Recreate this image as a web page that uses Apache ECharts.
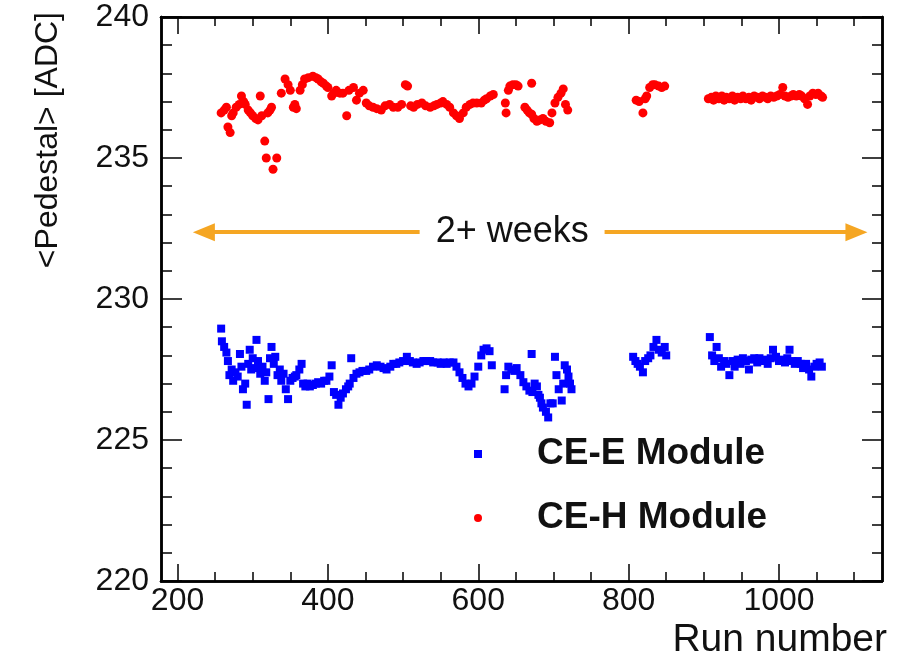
<!DOCTYPE html>
<html>
<head>
<meta charset="utf-8">
<script src="https://cdn.jsdelivr.net/npm/echarts@6/dist/echarts.min.js"></script>
<style>
html,body{margin:0;padding:0;background:#fff;}
#chart{width:903px;height:663px;}
</style>
</head>
<body>
<div id="chart"></div>
<script>
// ---------------- DATA ----------------
const xRange = [178, 1137];
const yRange = [220, 240];
const xMajorTicks = [200, 400, 600, 800, 1000];
const xMinorTicks = [250, 300, 350, 450, 500, 550, 650, 700, 750, 850, 900, 950, 1050, 1100];
const yMajorTicks = [220, 225, 230, 235, 240];
const yMinorTicks = [221, 222, 223, 224, 226, 227, 228, 229, 231, 232, 233, 234, 236, 237, 238, 239];
const seriesNames = ['CE-E Module', 'CE-H Module'];
const arrowText = '2+ weeks';
const arrowSpan = [235, 522, 768, 1103]; // left arrow, left end, right start, right arrow (run number)
const arrowLevel = 232.37;

// CE-E module (blue squares)
const runE = [258,259,262,265,267,269,272,274,277,280,283,285,287,290,292,294,296,298,300,303,305,307,310,313,316,318,321,323,325,328,330,333,336,338,341,344,347,350,353,356,358,362,365,367,370,373,376,380,384,387,391,395,398,402,405,408,411,414,417,420,424,427,429,431,434,438,442,446,451,455,460,465,470,474,478,483,487,491,495,500,505,509,513,518,522,527,531,536,540,546,550,554,558,562,567,571,575,579,583,587,591,595,600,604,607,611,615,618,635,637,640,644,648,651,656,660,664,668,671,672,675,678,680,682,684,686,690,693,696,699,702,704,707,711,713,715,718,720,722,724,806,809,812,815,819,822,826,829,833,837,840,844,848,850,908,911,914,917,920,923,927,930,934,938,941,945,949,952,956,960,963,967,971,974,978,982,985,989,992,996,1000,1004,1008,1011,1014,1018,1021,1025,1029,1032,1036,1040,1043,1047,1050,1054,1057];
const pedE = [228.95,228.5,228.3,228.1,227.8,227.3,227.5,227.1,227.4,227.25,228.05,227.6,226.8,227.0,226.25,227.7,228.2,227.5,227.9,227.55,228.55,227.8,227.35,227.6,227.1,227.4,226.45,227.9,228.3,227.7,227.95,227.3,227.5,227.1,227.35,226.8,226.45,227.1,227.2,227.25,227.3,227.5,227.7,227.0,226.9,227.0,226.9,226.95,227.0,227.05,227.0,227.1,227.1,227.25,227.65,226.7,226.6,226.25,226.5,226.65,226.8,226.9,227.0,227.9,227.2,227.35,227.4,227.45,227.45,227.5,227.6,227.65,227.6,227.55,227.5,227.6,227.7,227.7,227.75,227.8,227.95,227.8,227.75,227.7,227.75,227.8,227.8,227.8,227.75,227.75,227.7,227.75,227.7,227.75,227.75,227.6,227.4,227.2,227.0,226.9,227.0,227.25,227.6,228.0,228.2,228.25,228.15,227.65,226.8,227.3,227.6,227.5,227.45,227.55,227.3,227.05,226.9,226.75,228.05,226.7,227.0,226.9,226.6,226.5,226.3,226.15,226.0,225.8,226.3,226.3,227.95,227.3,226.8,226.4,227.0,227.65,227.5,227.25,227.0,226.8,227.95,227.8,227.7,227.6,227.4,227.8,227.9,228.0,228.3,228.55,228.2,228.1,228.3,228.0,228.65,228.0,227.8,228.3,227.9,227.6,227.8,227.7,227.3,227.8,227.6,227.85,227.7,227.9,227.8,227.5,227.85,227.9,227.75,227.9,227.8,227.85,227.7,227.9,228.2,227.95,227.8,227.85,227.75,227.9,228.2,227.8,227.7,227.8,227.7,227.55,227.7,227.5,227.25,227.6,227.7,227.75,227.6];

// CE-H module (red dots)
const runH = [258,262,265,267,270,272,274,278,282,285,288,290,294,297,300,304,307,310,312,316,318,320,323,325,327,332,338,343,347,350,354,356,358,363,366,369,374,380,384,387,391,394,398,400,405,408,411,416,420,425,428,434,438,442,447,451,455,460,465,471,476,482,487,493,498,503,506,510,514,519,525,530,536,541,545,550,553,558,562,567,571,575,580,584,589,593,598,604,608,611,616,620,636,637,640,642,646,650,653,662,665,668,671,671,674,678,682,686,690,695,698,702,706,710,713,716,719,810,814,819,822,824,828,832,835,840,844,848,906,910,913,916,920,924,927,930,934,938,941,945,949,952,956,960,963,967,971,974,978,982,985,989,993,997,1001,1005,1008,1012,1016,1019,1023,1027,1030,1034,1038,1041,1045,1049,1052,1056,1058];
const pedH = [236.6,236.7,236.8,236.1,235.9,236.5,236.6,236.8,236.9,237.2,237.0,236.9,236.7,236.6,236.5,236.4,236.35,237.2,236.5,235.6,235.0,236.6,236.7,236.8,234.6,235.0,237.3,237.8,237.6,237.4,236.8,236.9,236.75,237.4,237.6,237.8,237.85,237.9,237.85,237.8,237.7,237.65,237.55,237.5,237.2,237.3,237.4,237.3,237.3,236.5,237.4,237.5,237.05,237.3,237.4,236.95,236.85,236.8,236.75,236.7,236.85,236.9,236.8,236.8,236.9,237.6,237.55,236.85,236.8,236.9,236.95,236.85,236.8,236.85,236.9,236.95,237.0,236.9,236.8,236.6,236.5,236.4,236.6,236.8,236.9,236.95,236.95,236.95,237.05,237.1,237.2,237.25,236.95,236.6,237.4,237.55,237.6,237.6,237.55,236.8,236.7,236.6,237.65,236.55,236.4,236.3,236.35,236.4,236.3,236.25,236.6,236.95,237.15,237.3,237.45,236.9,236.7,237.05,237.0,236.6,237.1,237.2,237.5,237.6,237.6,237.55,237.5,237.55,237.1,237.15,237.05,237.2,237.1,237.2,237.05,237.15,237.1,237.2,237.05,237.15,237.1,237.2,237.1,237.15,237.05,237.2,237.15,237.1,237.2,237.15,237.1,237.2,237.15,237.2,237.25,237.5,237.2,237.15,237.2,237.25,237.2,237.25,237.2,237.1,236.9,237.2,237.3,237.25,237.3,237.2,237.15];

const zip = (xs, ys) => xs.map((x, i) => [x, ys[i]]);

// ---------------- CHART ----------------
const FONT = '"Liberation Sans", Arial, Helvetica, sans-serif';
const BLACK = '#000';
const chart = echarts.init(document.getElementById('chart'), null, {renderer: 'canvas'});

function xAxisDef(position, ticks, len, withLabels) {
  return {
    type: 'value', position: position, min: xRange[0], max: xRange[1],
    axisLine: {show: true, lineStyle: {color: BLACK, width: 2.5}},
    axisTick: {show: true, inside: true, length: len, customValues: ticks, lineStyle: {color: BLACK, width: 1.5}},
    axisLabel: withLabels ? {show: true, customValues: ticks, margin: 4, fontSize: 32, color: '#111', fontFamily: FONT,
      formatter: function (v) { return String(v); }} : {show: false},
    splitLine: {show: false}
  };
}
function yAxisDef(position, ticks, len, withLabels) {
  return {
    type: 'value', position: position, min: yRange[0], max: yRange[1],
    axisLine: {show: true, lineStyle: {color: BLACK, width: 2.5}},
    axisTick: {show: true, inside: true, length: len, customValues: ticks, lineStyle: {color: BLACK, width: 1.5}},
    axisLabel: withLabels ? {show: true, customValues: ticks, margin: 12, fontSize: 32, color: '#111', fontFamily: FONT,
      formatter: function (v) { return String(v); }} : {show: false},
    splitLine: {show: false}
  };
}

const xMain = xAxisDef('bottom', xMajorTicks, 17, true);
xMain.name = 'Run number';
xMain.nameLocation = 'end';
xMain.nameGap = 5;
xMain.nameTextStyle = {fontSize: 39, color: '#111', fontFamily: FONT, align: 'right', verticalAlign: 'top', padding: [40, 0, 0, 0]};

const yMain = yAxisDef('left', yMajorTicks, 21, true);
yMain.name = '<Pedestal> [ADC]';
yMain.nameLocation = 'end';
yMain.nameRotate = 90;
yMain.nameGap = 5;
yMain.nameTextStyle = {fontSize: 32, color: '#111', fontFamily: FONT, align: 'right', verticalAlign: 'bottom', padding: [0, 0, 97, 0]};

const option = {
  backgroundColor: '#fff',
  animation: false,
  grid: {left: 161, right: 21, top: 17, bottom: 82, containLabel: false},
  xAxis: [
    xMain,
    xAxisDef('top', xMajorTicks, 17, false),
    xAxisDef('bottom', xMinorTicks, 9, false),
    xAxisDef('top', xMinorTicks, 9, false)
  ],
  yAxis: [
    yMain,
    yAxisDef('right', yMajorTicks, 20, false),
    yAxisDef('left', yMinorTicks, 11, false),
    yAxisDef('right', yMinorTicks, 10, false)
  ],
  legend: {
    orient: 'vertical', left: 469, top: 429, itemGap: 24,
    itemWidth: 8, itemHeight: 8, selectedMode: false,
    data: [{name: seriesNames[0], icon: 'rect'}, {name: seriesNames[1], icon: 'circle'}],
    textStyle: {fontSize: 37, fontWeight: 'bold', color: '#111', fontFamily: FONT, lineHeight: 40, padding: [0, 0, 0, 50]}
  },
  series: [
    {
      name: seriesNames[0], type: 'scatter', xAxisIndex: 0, yAxisIndex: 0,
      symbol: 'rect', symbolSize: 8,
      itemStyle: {color: '#0000ff', opacity: 1},
      data: zip(runE, pedE)
    },
    {
      name: seriesNames[1], type: 'scatter', xAxisIndex: 0, yAxisIndex: 0,
      symbol: 'circle', symbolSize: 9,
      itemStyle: {color: '#ff0000', opacity: 1},
      data: zip(runH, pedH),
      markLine: {
        silent: true,
        symbolSize: [18, 22],
        lineStyle: {color: '#F5A623', width: 4, type: 'solid'},
        data: [
          [
            {coord: [arrowSpan[0], arrowLevel], symbol: 'triangle'},
            {coord: [arrowSpan[1], arrowLevel], symbol: 'none',
             label: {show: true, position: 'end', distance: 16, formatter: arrowText, fontSize: 36, color: '#111', fontFamily: FONT}}
          ],
          [
            {coord: [arrowSpan[2], arrowLevel], symbol: 'none'},
            {coord: [arrowSpan[3], arrowLevel], symbol: 'triangle', label: {show: false}}
          ]
        ],
        label: {show: false}
      }
    }
  ]
};
chart.setOption(option);
</script>
</body>
</html>
